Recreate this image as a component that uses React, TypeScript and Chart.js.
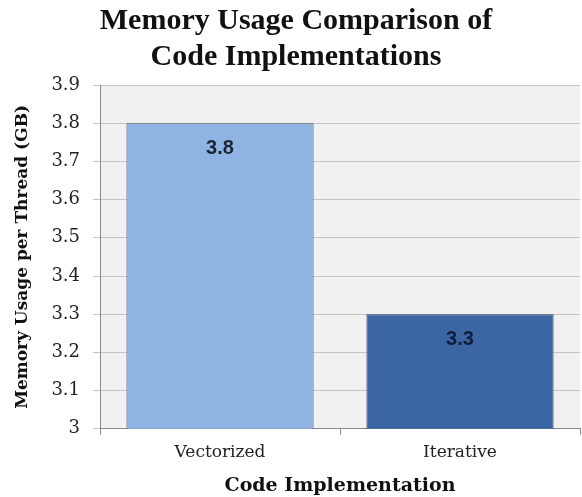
import React, { useEffect, useRef } from "react";
import { Chart, registerables } from "chart.js";

Chart.register(...registerables);

const categories = ["Vectorized", "Iterative"];
const memoryValues = [3.8, 3.3];
const barColors = ["#8fb4e4", "#3b65a3"];
const barBorders = ["#4d5560", "#2b3e5c"];
const labelColors = ["#1c2633", "#0e1f3d"];
const yMin = 3;
const yMax = 3.9;
const yStep = 0.1;

const SERIF = "'Liberation Serif', serif";
const SERIF_WIDE = "'DejaVu Serif', serif";

const plotBg = {
  id: "plotBg",
  beforeDraw(chart: any) {
    const { ctx, chartArea } = chart;
    ctx.save();
    ctx.fillStyle = "#f1f1f1";
    ctx.fillRect(chartArea.left, chartArea.top, chartArea.right - chartArea.left, chartArea.bottom - chartArea.top);
    ctx.restore();
  },
};

const valueLabels = {
  id: "valueLabels",
  afterDatasetsDraw(chart: any) {
    const { ctx } = chart;
    const meta = chart.getDatasetMeta(0);
    ctx.save();
    ctx.font = "bold 20px 'Liberation Sans', sans-serif";
    ctx.textAlign = "center";
    ctx.textBaseline = "middle";
    meta.data.forEach((bar: any, i: number) => {
      ctx.fillStyle = labelColors[i];
      ctx.fillText(String(memoryValues[i]), bar.x, bar.y + 25);
    });
    ctx.restore();
  },
};

export default function App() {
  const ref = useRef<HTMLCanvasElement>(null);
  useEffect(() => {
    document.body.style.margin = "0";
    const chart = new Chart(ref.current!, {
      type: "bar",
      data: {
        labels: categories,
        datasets: [
          {
            data: memoryValues,
            backgroundColor: barColors,
            borderColor: barBorders,
            borderWidth: 1,
            categoryPercentage: 0.78,
            barPercentage: 1,
          },
        ],
      },
      options: {
        responsive: false,
        animation: false,
        layout: { padding: { left: 12, right: 2, top: 2, bottom: 0 } },
        plugins: {
          legend: { display: false },
          tooltip: { enabled: false },
          title: {
            display: true,
            text: ["Memory Usage Comparison of", "Code Implementations"],
            font: { family: SERIF, size: 30, weight: "bold", lineHeight: 1.2 },
            color: "#111",
            padding: { top: 1, bottom: 10 },
          },
        },
        scales: {
          x: {
            grid: { display: true, offset: true, drawOnChartArea: false, tickLength: 6, color: "#8a8a8a" },
            border: { color: "#8a8a8a" },
            ticks: { font: { family: SERIF_WIDE, size: 17 }, color: "#222", padding: 8 },
            title: {
              display: true,
              text: "Code Implementation",
              font: { family: SERIF_WIDE, size: 19, weight: "bold" },
              color: "#111",
              padding: { top: 3, bottom: 0 },
            },
          },
          y: {
            min: yMin,
            max: yMax,
            grid: { color: "#c4c4c4", tickLength: 7 },
            border: { color: "#8a8a8a" },
            ticks: {
              stepSize: yStep,
              font: { family: SERIF_WIDE, size: 18 },
              color: "#222",
              padding: 13,
              callback: (v: any) => String(Number(Number(v).toFixed(1))),
            },
            title: {
              display: true,
              text: "Memory Usage per Thread (GB)",
              font: { family: SERIF_WIDE, size: 17, weight: "bold" },
              color: "#111",
              padding: { top: 0, bottom: 6 },
            },
          },
        },
      },
      plugins: [plotBg, valueLabels],
    });
    return () => chart.destroy();
  }, []);
  return (
    <div style={{ width: 582, height: 497, background: "#fff" }}>
      <canvas ref={ref} width={582} height={497} />
    </div>
  );
}
